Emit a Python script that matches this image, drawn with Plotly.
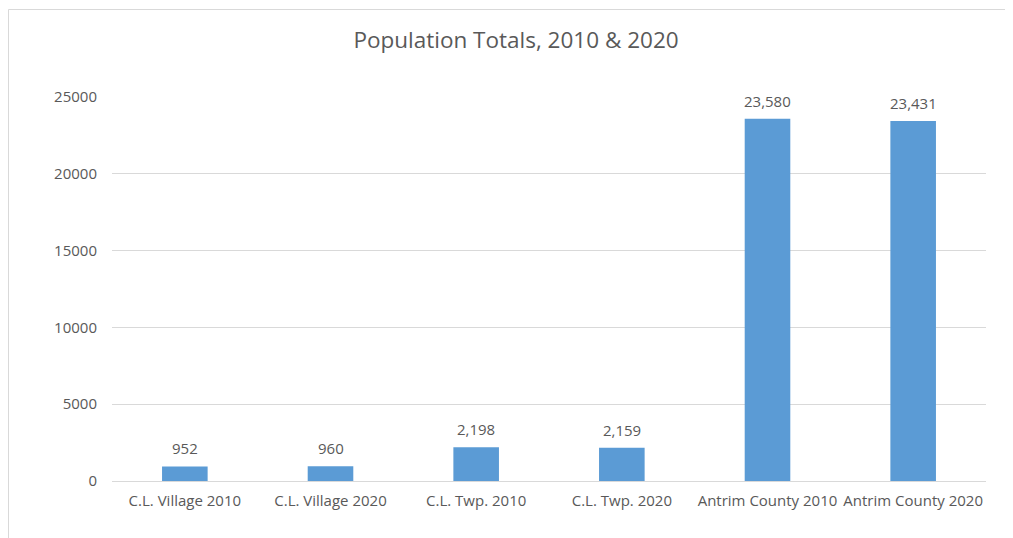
import plotly.graph_objects as go

categories = ["C.L. Village 2010", "C.L. Village 2020", "C.L. Twp. 2010",
              "C.L. Twp. 2020", "Antrim County 2010", "Antrim County 2020"]
population = [952, 960, 2198, 2159, 23580, 23431]
y_ticks = [0, 5000, 10000, 15000, 20000, 25000]

TEXT = "#595959"
FONT = "Open Sans"

fig = go.Figure()
fig.add_trace(go.Bar(
    x=categories, y=population,
    marker=dict(color="#5B9BD5", line=dict(width=0)),
    width=0.313,
))

for c, v in zip(categories, population):
    fig.add_annotation(x=c, y=v, text=f"{v:,}", showarrow=False,
                       yanchor="bottom", yshift=6,
                       font=dict(family=FONT, size=15, color=TEXT))

fig.update_layout(
    width=1013, height=538,
    margin=dict(l=104, r=35, t=89, b=65),
    paper_bgcolor="white", plot_bgcolor="white",
    showlegend=False,
    title=dict(text="Population Totals, 2010 & 2020",
               x=508/1013, xref="container", xanchor="center",
               y=1-32/538, yref="container", yanchor="middle",
               font=dict(family=FONT, size=22.5, color=TEXT)),
    font=dict(family=FONT, color=TEXT),
    xaxis=dict(showgrid=False, showline=True, linecolor="#D9D9D9", linewidth=1,
               ticks="", tickfont=dict(family=FONT, size=15, color=TEXT),
               ticklabelstandoff=6, fixedrange=True),
    yaxis=dict(range=[0, 25000], tickvals=y_ticks, ticktext=[str(t) for t in y_ticks],
               showgrid=True, gridcolor="#D9D9D9", gridwidth=1,
               zeroline=False, showline=False, ticks="",
               tickfont=dict(family=FONT, size=15, color=TEXT),
               ticklabelstandoff=14),
    shapes=[dict(type="rect", xref="paper", yref="paper",
                 x0=(8.5-112)/874, x1=1.2, y0=-0.5, y1=(481-9.5)/384,
                 line=dict(color="#D9D9D9", width=1), fillcolor="rgba(0,0,0,0)",
                 layer="below")],
)

fig.write_html("out.html")
